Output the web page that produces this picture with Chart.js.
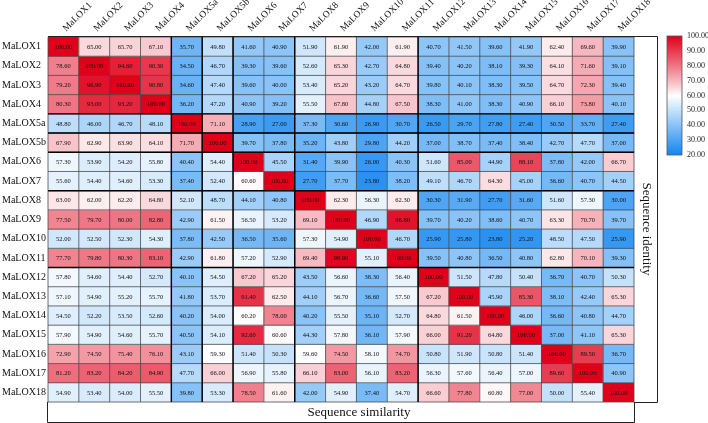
<!DOCTYPE html>
<html>
<head>
<meta charset="utf-8">
<script src="https://cdn.jsdelivr.net/npm/chart.js@4.4.1/dist/chart.umd.min.js"></script>
<style>
  body { margin: 0; background: #fff; }
  #chart-container { position: relative; }
</style>
</head>
<body>
<div id="chart-container"><canvas id="chart"></canvas></div>
<script>
const genes = ['MaLOX1', 'MaLOX2', 'MaLOX3', 'MaLOX4', 'MaLOX5a', 'MaLOX5b', 'MaLOX6', 'MaLOX7', 'MaLOX8', 'MaLOX9',
  'MaLOX10', 'MaLOX11', 'MaLOX12', 'MaLOX13', 'MaLOX14', 'MaLOX15', 'MaLOX16', 'MaLOX17', 'MaLOX18'];

// one row per gene, columns in the same order as genes
const rowLOX1 = [100.00, 65.00, 65.70, 67.10, 35.70, 49.80, 41.60, 40.90, 51.90, 61.90, 42.00, 61.90, 40.70, 41.50, 39.60, 41.90, 62.40, 69.60, 39.90];
const rowLOX2 = [78.60, 100.00, 94.60, 90.30, 34.50, 46.70, 39.30, 39.60, 52.60, 65.30, 42.70, 64.80, 39.40, 40.20, 38.10, 39.30, 64.10, 71.60, 39.10];
const rowLOX3 = [79.20, 96.90, 100.00, 90.80, 34.60, 47.40, 39.60, 40.00, 53.40, 65.20, 43.20, 64.70, 39.80, 40.10, 38.30, 39.50, 64.70, 72.30, 39.40];
const rowLOX4 = [80.30, 93.00, 93.20, 100.00, 36.20, 47.20, 40.90, 39.20, 55.50, 67.80, 44.80, 67.50, 38.30, 41.00, 38.30, 40.90, 66.10, 73.80, 40.10];
const rowLOX5a = [48.80, 46.00, 46.70, 48.10, 100.00, 71.10, 28.90, 27.00, 37.30, 30.60, 26.90, 30.70, 26.50, 29.70, 27.80, 27.40, 30.50, 33.70, 27.40];
const rowLOX5b = [67.90, 62.90, 63.90, 64.10, 71.70, 100.00, 39.70, 37.80, 35.20, 43.80, 29.80, 44.20, 37.00, 38.70, 37.40, 38.40, 42.70, 47.70, 37.00];
const rowLOX6 = [57.30, 53.90, 54.20, 55.80, 40.40, 54.40, 100.00, 45.50, 31.40, 39.90, 26.00, 40.30, 51.60, 85.00, 44.90, 88.10, 37.80, 42.00, 66.70];
const rowLOX7 = [55.60, 54.40, 54.60, 53.30, 37.40, 52.40, 60.60, 100.00, 27.70, 37.70, 23.80, 38.20, 49.10, 46.70, 64.30, 45.00, 36.60, 40.70, 44.50];
const rowLOX8 = [63.00, 62.00, 62.20, 64.80, 52.10, 48.70, 44.10, 40.80, 100.00, 62.30, 56.30, 62.30, 30.30, 31.90, 27.70, 31.60, 51.60, 57.30, 30.00];
const rowLOX9 = [77.50, 79.70, 80.00, 82.80, 42.90, 61.50, 56.50, 53.20, 69.10, 100.00, 46.90, 96.80, 39.70, 40.20, 38.60, 40.70, 63.30, 70.70, 39.70];
const rowLOX10 = [52.00, 52.50, 52.30, 54.30, 37.80, 42.50, 36.50, 35.60, 57.30, 54.90, 100.00, 46.70, 25.90, 25.80, 23.80, 25.20, 48.50, 47.50, 25.90];
const rowLOX11 = [77.70, 79.80, 80.30, 83.10, 42.90, 61.80, 57.20, 52.90, 69.40, 98.90, 55.10, 100.00, 39.50, 40.80, 36.50, 40.80, 62.80, 70.10, 39.30];
const rowLOX12 = [57.80, 54.60, 54.40, 52.70, 40.10, 54.50, 67.20, 65.20, 43.50, 56.60, 38.30, 56.40, 100.00, 51.50, 47.80, 50.40, 36.70, 40.70, 50.30];
const rowLOX13 = [57.10, 54.90, 55.20, 55.70, 41.80, 53.70, 91.40, 62.50, 44.10, 56.70, 36.60, 57.50, 67.20, 100.00, 45.90, 85.30, 38.10, 42.40, 65.30];
const rowLOX14 = [54.50, 52.20, 53.50, 52.60, 40.20, 54.00, 60.20, 78.00, 40.20, 55.50, 35.10, 52.70, 64.80, 61.50, 100.00, 46.00, 36.60, 40.80, 44.70];
const rowLOX15 = [57.90, 54.90, 54.60, 55.70, 40.50, 54.10, 92.60, 60.60, 44.30, 57.80, 36.10, 57.90, 66.00, 91.20, 64.80, 100.00, 37.00, 41.10, 65.30];
const rowLOX16 = [72.90, 74.50, 75.40, 76.10, 43.10, 59.30, 51.40, 50.30, 59.60, 74.50, 58.10, 74.70, 50.80, 51.90, 50.80, 51.40, 100.00, 89.50, 36.70];
const rowLOX17 = [81.20, 83.20, 84.20, 84.90, 47.70, 66.00, 56.90, 55.80, 66.10, 83.00, 56.10, 83.20, 56.30, 57.60, 56.40, 57.00, 89.60, 100.00, 40.90];
const rowLOX18 = [54.90, 53.40, 54.00, 55.50, 39.80, 53.30, 78.50, 61.60, 42.00, 54.90, 37.40, 54.70, 66.60, 77.80, 60.80, 77.00, 50.00, 55.40, 100.00];

const rows = [rowLOX1, rowLOX2, rowLOX3, rowLOX4, rowLOX5a, rowLOX5b, rowLOX6, rowLOX7, rowLOX8, rowLOX9,
  rowLOX10, rowLOX11, rowLOX12, rowLOX13, rowLOX14, rowLOX15, rowLOX16, rowLOX17, rowLOX18];

const colorbarTicks = [100, 90, 80, 70, 60, 50, 40, 30, 20];
const groupBreaks = [4, 5, 6, 8, 12];

const serif = "'Liberation Serif', 'Times New Roman', serif";

function colorFor(v) {
  const lo = [18, 134, 240], mid = [255, 255, 255], hi = [224, 0, 26];
  let t, a, b;
  if (v <= 60) { t = (v - 20) / 40; a = lo; b = mid; }
  else { t = (v - 60) / 40; a = mid; b = hi; t = Math.pow(t, 0.9); }
  t = Math.max(0, Math.min(1, t));
  const c = a.map((x, k) => Math.round(x + (b[k] - x) * t));
  return 'rgb(' + c.join(',') + ')';
}

const datasets = rows.map((row, i) => ({
  label: genes[i],
  data: row.map(() => [i, i + 1]),
  backgroundColor: row.map(colorFor),
  borderWidth: 0,
  barPercentage: 1,
  categoryPercentage: 1
}));

const cellPlugin = {
  id: 'cells',
  afterDatasetsDraw(chart) {
    const c = chart.ctx;
    const xs = chart.scales.x, ys = chart.scales.y;
    const area = chart.chartArea;
    c.save();
    // values
    c.fillStyle = '#111';
    c.font = '6.5px ' + serif;
    c.textAlign = 'center';
    c.textBaseline = 'middle';
    rows.forEach((row, i) => {
      chart.getDatasetMeta(i).data.forEach((bar, j) => {
        c.fillText(row[j].toFixed(2), bar.x, (bar.y + bar.base) / 2 + 0.5);
      });
    });
    // cell borders
    c.strokeStyle = '#4a4a4a';
    c.lineWidth = 0.8;
    c.beginPath();
    for (let k = 0; k <= genes.length; k++) {
      const px = xs.getPixelForValue(k - 0.5);
      const py = ys.getPixelForValue(k);
      c.moveTo(px, area.top); c.lineTo(px, area.bottom);
      c.moveTo(area.left, py); c.lineTo(area.right, py);
    }
    c.stroke();
    c.strokeStyle = '#000';
    c.lineWidth = 1.4;
    c.beginPath();
    groupBreaks.forEach(k => {
      const px = xs.getPixelForValue(k - 0.5);
      const py = ys.getPixelForValue(k);
      c.moveTo(px, area.top); c.lineTo(px, area.bottom);
      c.moveTo(area.left, py); c.lineTo(area.right, py);
    });
    c.stroke();
    c.restore();
  },
  afterDraw(chart) {
    const c = chart.ctx;
    const a = chart.chartArea;
    c.save();
    // frames for the two axis titles
    c.strokeStyle = '#222';
    c.lineWidth = 1;
    c.beginPath();
    c.moveTo(a.left, a.top - 0.5); c.lineTo(a.right + 23.5, a.top - 0.5);
    c.lineTo(a.right + 23.5, a.bottom + 0.5); c.lineTo(a.right, a.bottom + 0.5);
    c.moveTo(a.left - 0.5, a.bottom); c.lineTo(a.left - 0.5, a.bottom + 20.5);
    c.lineTo(a.right + 0.5, a.bottom + 20.5); c.lineTo(a.right + 0.5, a.bottom);
    c.stroke();

    c.fillStyle = '#111';
    c.font = '13px ' + serif;
    c.textAlign = 'center';
    c.textBaseline = 'middle';
    c.fillText('Sequence similarity', 359, a.bottom + 11);
    c.save();
    c.translate(a.right + 12, 229);
    c.rotate(Math.PI / 2);
    c.fillText('Sequence identity', 0, 0);
    c.restore();

    // colour bar
    const bx = a.right + 33, bw = 15, top = 36, bot = 155;
    const g = c.createLinearGradient(0, top, 0, bot);
    for (let s = 0; s <= 20; s++) {
      g.addColorStop(s / 20, colorFor(100 - s * 4));
    }
    c.fillStyle = g;
    c.fillRect(bx, top, bw, bot - top);
    c.strokeStyle = '#555';
    c.lineWidth = 0.8;
    c.strokeRect(bx, top, bw, bot - top);
    c.fillStyle = '#222';
    c.font = '8px ' + serif;
    c.textAlign = 'left';
    colorbarTicks.forEach(v => {
      const y = top + (100 - v) / 80 * (bot - top);
      c.fillText(v.toFixed(2), bx + 20, y);
    });
    c.restore();
  }
};

const ctx = document.getElementById('chart');
ctx.width = 708;
ctx.height = 423;

new Chart(ctx, {
  type: 'bar',
  data: { labels: genes, datasets: datasets },
  options: {
    responsive: false,
    animation: false,
    layout: { padding: { left: 2, right: 74, top: 0, bottom: 21 } },
    plugins: { legend: { display: false }, tooltip: { enabled: false } },
    scales: {
      x: {
        type: 'category',
        position: 'top',
        offset: true,
        stacked: true,
        grid: { display: false, drawTicks: false },
        border: { display: false },
        ticks: {
          autoSkip: false,
          minRotation: 45,
          maxRotation: 45,
          padding: 3,
          labelOffset: 9,
          color: '#111',
          font: { family: serif, size: 9.5 }
        },
        afterFit: s => { s.height = 37; }
      },
      y: {
        type: 'linear',
        min: 0,
        max: 19,
        reverse: true,
        grid: { display: false, drawTicks: false },
        border: { display: false },
        afterBuildTicks: s => { s.ticks = genes.map((g, i) => ({ value: i + 0.5 })); },
        ticks: {
          autoSkip: false,
          crossAlign: 'far',
          padding: 4,
          color: '#111',
          font: { family: serif, size: 10 },
          callback: v => genes[Math.floor(v)]
        },
        afterFit: s => { s.width = 46; }
      }
    }
  },
  plugins: [cellPlugin]
});
</script>
</body>
</html>
